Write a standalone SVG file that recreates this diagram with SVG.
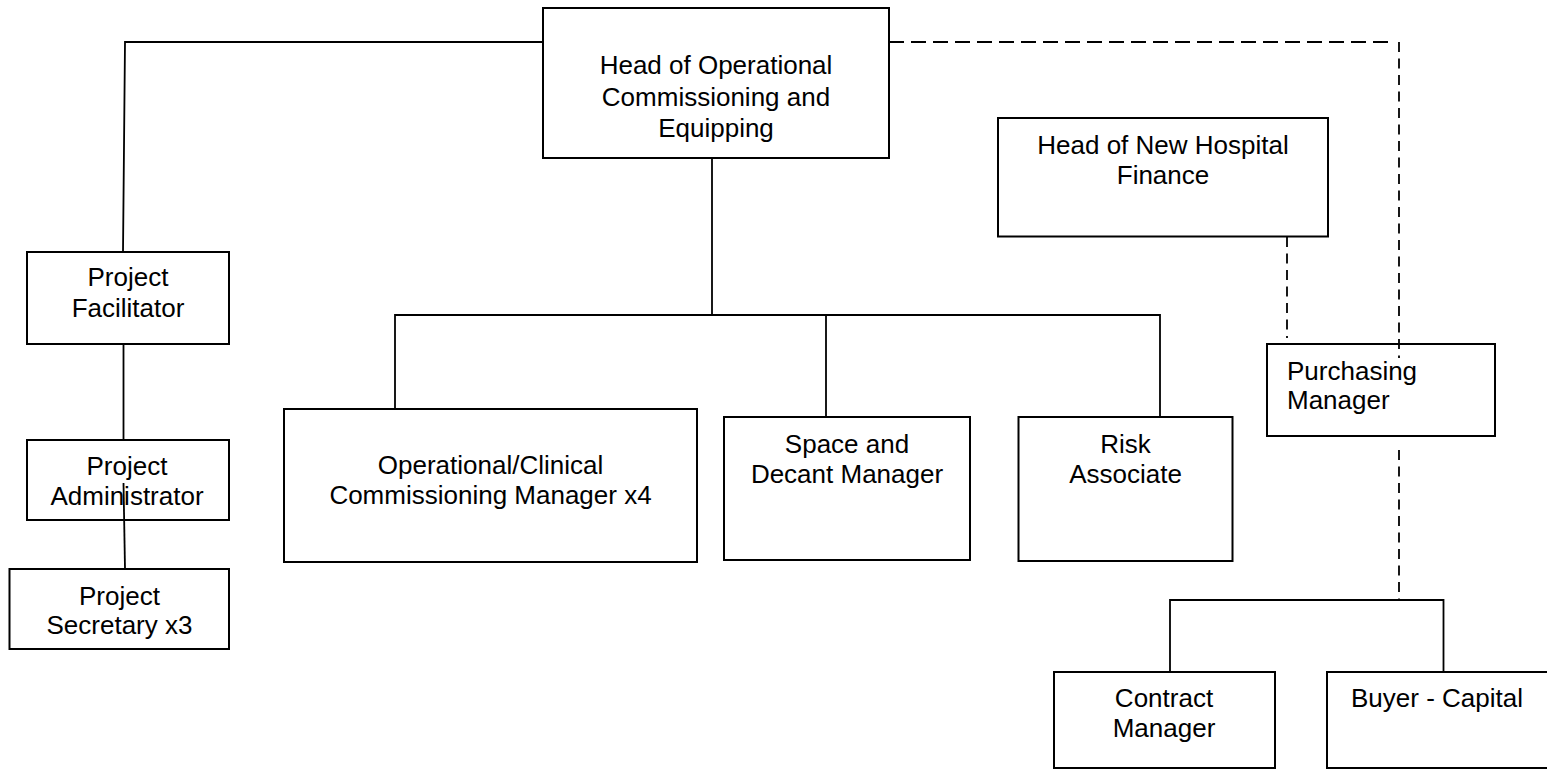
<svg xmlns="http://www.w3.org/2000/svg" width="1547" height="769" viewBox="0 0 1547 769">
<style>
.box{fill:none;stroke:#000;stroke-width:2}
.t{font-family:"Liberation Sans",Arial,sans-serif;font-size:26px;fill:#000}
.c{text-anchor:middle}
.ln{fill:none;stroke:#000;stroke-width:1.8}
.dh{fill:none;stroke:#000;stroke-width:1.8;stroke-dasharray:15 7}
.dv{fill:none;stroke:#000;stroke-width:1.8;stroke-dasharray:10 6.5}
</style>
<rect width="1547" height="769" fill="#fff"/>
<g id="connectors">
<polyline class="ln" points="543,42 125,42 123,252"/>
<line class="ln" x1="123.5" y1="344" x2="123.5" y2="440"/>
<line class="ln" x1="123.5" y1="483" x2="125" y2="569"/>
<line class="ln" x1="712" y1="158" x2="712" y2="315"/>
<polyline class="ln" points="395,409 395,315 1160,315 1160,417"/>
<line class="ln" x1="826" y1="315" x2="826" y2="417"/>
<line class="dh" x1="889" y1="42" x2="1393" y2="42"/>
<line class="dv" x1="1399" y1="42" x2="1399" y2="358"/>
<line class="dv" x1="1287" y1="237" x2="1287" y2="338"/>
<line class="dv" x1="1399" y1="450" x2="1399" y2="600"/>
<polyline class="ln" points="1170,672 1170,600 1443.5,600 1443.5,672"/>
</g>
<g id="head-ops">
<rect class="box" x="543" y="8" width="346" height="150"/>
<text class="t c" x="716" y="74">Head of Operational</text>
<text class="t c" x="716" y="105.5">Commissioning and</text>
<text class="t c" x="716" y="137">Equipping</text>
</g>
<g id="project-facilitator">
<rect class="box" x="27" y="252" width="202" height="92"/>
<text class="t c" x="128" y="286">Project</text>
<text class="t c" x="128" y="317">Facilitator</text>
</g>
<g id="project-administrator">
<rect class="box" x="27" y="440" width="202" height="80"/>
<text class="t c" x="127" y="475">Project</text>
<text class="t c" x="127" y="505">Administrator</text>
</g>
<g id="project-secretary">
<rect class="box" x="9.5" y="569" width="219.5" height="80"/>
<text class="t c" x="119.5" y="605">Project</text>
<text class="t c" x="119.5" y="634">Secretary x3</text>
</g>
<g id="op-clinical">
<rect class="box" x="284" y="409" width="413" height="153"/>
<text class="t c" x="490.5" y="474">Operational/Clinical</text>
<text class="t c" x="490.5" y="504">Commissioning Manager x4</text>
</g>
<g id="space-decant">
<rect class="box" x="724" y="417" width="246" height="143"/>
<text class="t c" x="847" y="453">Space and</text>
<text class="t c" x="847" y="483">Decant Manager</text>
</g>
<g id="risk-associate">
<rect class="box" x="1018.5" y="417" width="214" height="144"/>
<text class="t c" x="1125.5" y="453">Risk</text>
<text class="t c" x="1125.5" y="483">Associate</text>
</g>
<g id="head-finance">
<rect class="box" x="998" y="118" width="330" height="118.5"/>
<text class="t c" x="1163" y="154">Head of New Hospital</text>
<text class="t c" x="1163" y="184">Finance</text>
</g>
<g id="purchasing-manager">
<rect class="box" x="1267" y="344" width="228" height="92"/>
<text class="t" x="1287" y="380">Purchasing</text>
<text class="t" x="1287" y="409">Manager</text>
</g>
<g id="contract-manager">
<rect class="box" x="1054" y="672" width="221" height="96"/>
<text class="t c" x="1164" y="707">Contract</text>
<text class="t c" x="1164" y="737">Manager</text>
</g>
<g id="buyer-capital">
<rect class="box" x="1327" y="672" width="225" height="96"/>
<text class="t" x="1351" y="707">Buyer - Capital</text>
</g>
</svg>
